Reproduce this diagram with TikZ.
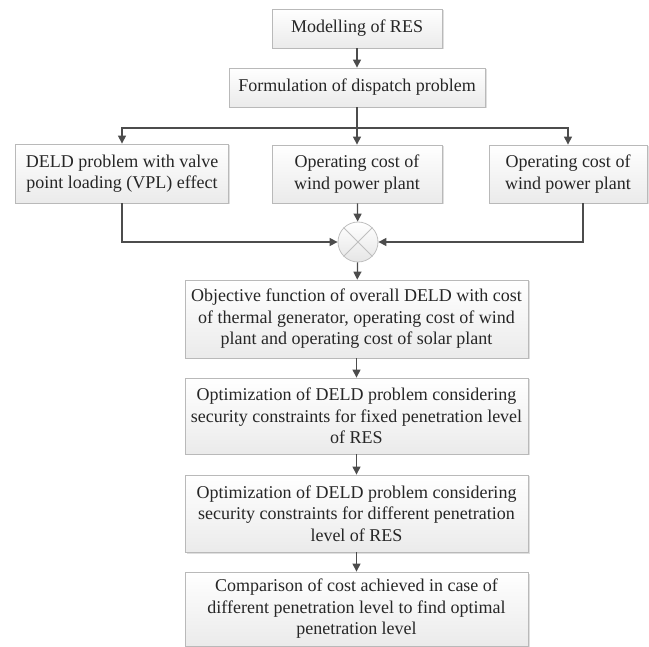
\documentclass[tikz,border=0pt]{standalone}
\usepackage{fontspec}
\setmainfont{Liberation Serif}
\usetikzlibrary{arrows.meta,shadows}
\tikzset{
  blk/.style={draw=gray!55, line width=0.8pt, top color=white, bottom color=gray!16,
    drop shadow={opacity=0.25, shadow xshift=1.5pt, shadow yshift=-1.5pt},
    align=center, text=black!85, inner sep=0pt, font=\fontsize{18}{21.5}\selectfont},
  arr/.style={-{Triangle[length=8pt,width=8pt]}, draw=black!70, line width=1.2pt},
  ln/.style={draw=black!70, line width=1.2pt}
}
\begin{document}
\begin{tikzpicture}[x=1pt,y=-1pt]
\useasboundingbox (0,0) rectangle (649,647);
\node[blk, minimum width=170pt, minimum height=39pt] (res) at (357,28.5) {Modelling of RES};
\node[blk, minimum width=256pt, minimum height=39pt] (form) at (357,87.5) {Formulation of dispatch problem};
\node[blk, minimum width=213pt, minimum height=59pt] (deld) at (122,173.5) {DELD problem with valve\\point loading (VPL) effect};
\node[blk, minimum width=170pt, minimum height=58pt] (wind) at (357,174) {Operating cost of\\wind power plant};
\node[blk, minimum width=158pt, minimum height=58pt] (solar) at (568,174) {Operating cost of\\wind power plant};
\node[draw=gray!50, line width=0.8pt, circle, minimum size=40pt, inner sep=0pt, top color=white, bottom color=gray!20] (sum) at (358,242) {};
\draw[gray!50, line width=0.8pt] (sum.45) -- (sum.225) (sum.135) -- (sum.315);
\node[blk, minimum width=343pt, minimum height=78pt] (obj) at (356.5,319) {Objective function of overall DELD with cost\\of thermal generator, operating cost of wind\\plant and operating cost of solar plant};
\node[blk, minimum width=343pt, minimum height=76pt] (opta) at (356.5,416) {Optimization of DELD problem considering\\security constraints for fixed penetration level\\of RES};
\node[blk, minimum width=343pt, minimum height=77pt] (optb) at (356.5,513.5) {Optimization of DELD problem considering\\security constraints for different penetration\\level of RES};
\node[blk, minimum width=343pt, minimum height=74pt] (comp) at (356.5,609) {Comparison of cost achieved in case of\\different penetration level to find optimal\\penetration level};
\coordinate (split) at (357,128);
\draw[arr] (res) -- (form);
\draw[ln] (form) -- (split);
\draw[arr] (split) -| (deld);
\draw[arr] (split) -- (wind);
\draw[arr] (split) -| (solar);
\draw[arr] (deld.south) |- (sum.west);
\draw[arr] ([xshift=15pt]solar.south) |- (sum.east);
\draw[arr] (wind) -- (sum);
\draw[arr] (sum) -- (obj);
\draw[arr] (obj) -- (opta);
\draw[arr] (opta) -- (optb);
\draw[arr] (optb) -- (comp);
\end{tikzpicture}
\end{document}
